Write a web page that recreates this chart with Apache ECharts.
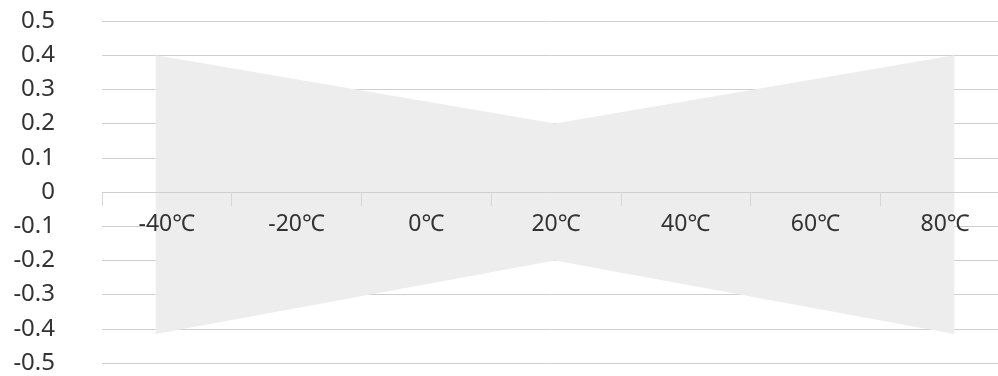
<!DOCTYPE html>
<html>
<head>
<meta charset="utf-8">
<script src="https://cdn.jsdelivr.net/npm/echarts@6/dist/echarts.min.js"></script>
<style>
  html, body { margin: 0; padding: 0; background: #fff; }
  #chart { width: 998px; height: 376px; }
</style>
</head>
<body>
<div id="chart"></div>
<script>
// x axis categories
var categories = ['-40℃', '-20℃', '0℃', '20℃', '40℃', '60℃', '80℃']
// y ticks
var yMin = -0.5
var yMax = 0.5
var yStep = 0.1
// band outline: [temperature, value]
var upperEdge = [[-40, 0.4], [20, 0.2], [80, 0.4]]
var lowerEdge = [[-40, -0.415], [20, -0.2], [80, -0.415]]

var chart = echarts.init(document.getElementById('chart'))

var bandColor = '#ecedec'
var gridTop = 21
var gridBottom = 13
var plotHeight = 376 - gridTop - gridBottom
// move the category axis up to the y = 0 line
var zeroOffset = -plotHeight * (0 - yMin) / (yMax - yMin)

var option = {
  animation: false,
  grid: {
    left: 102,
    right: -12,
    top: gridTop,
    bottom: gridBottom,
    containLabel: false,
    outerBoundsMode: 'none'
  },
  xAxis: [
    {
      type: 'category',
      data: categories,
      z: 3,
      position: 'bottom',
      offset: zeroOffset,
      axisLine: { show: true, onZero: false, lineStyle: { color: '#cfcfcf', width: 1 } },
      axisTick: { show: true, length: 14, lineStyle: { color: '#d6d6d6' } },
      axisLabel: {
        color: '#333',
        fontSize: 23,
        margin: 21,
        fontFamily: 'Noto Sans'
      },
      splitLine: { show: false }
    },
    {
      // hidden axis used to place the band
      type: 'value',
      show: false,
      min: -48.07,
      max: 88.37
    }
  ],
  yAxis: {
    type: 'value',
    min: yMin,
    max: yMax,
    interval: yStep,
    z: 0,
    axisLine: { show: false },
    axisTick: { show: false },
    axisLabel: {
      color: '#333',
      fontSize: 24,
      margin: 47,
      fontFamily: 'Noto Sans',
      padding: [7, 0, 0, 0],
      formatter: function (v) {
        return String(Math.round(v * 10) / 10)
      }
    },
    splitLine: { show: true, lineStyle: { color: '#cfcfcf', width: 1 } }
  },
  series: [
    {
      type: 'line',
      xAxisIndex: 1,
      data: upperEdge,
      z: 1,
      symbol: 'none',
      lineStyle: { width: 0 },
      areaStyle: { color: bandColor, opacity: 1 }
    },
    {
      type: 'line',
      xAxisIndex: 1,
      data: lowerEdge,
      z: 1,
      symbol: 'none',
      lineStyle: { width: 0 },
      areaStyle: { color: bandColor, opacity: 1 }
    }
  ]
}

chart.setOption(option)
</script>
</body>
</html>
